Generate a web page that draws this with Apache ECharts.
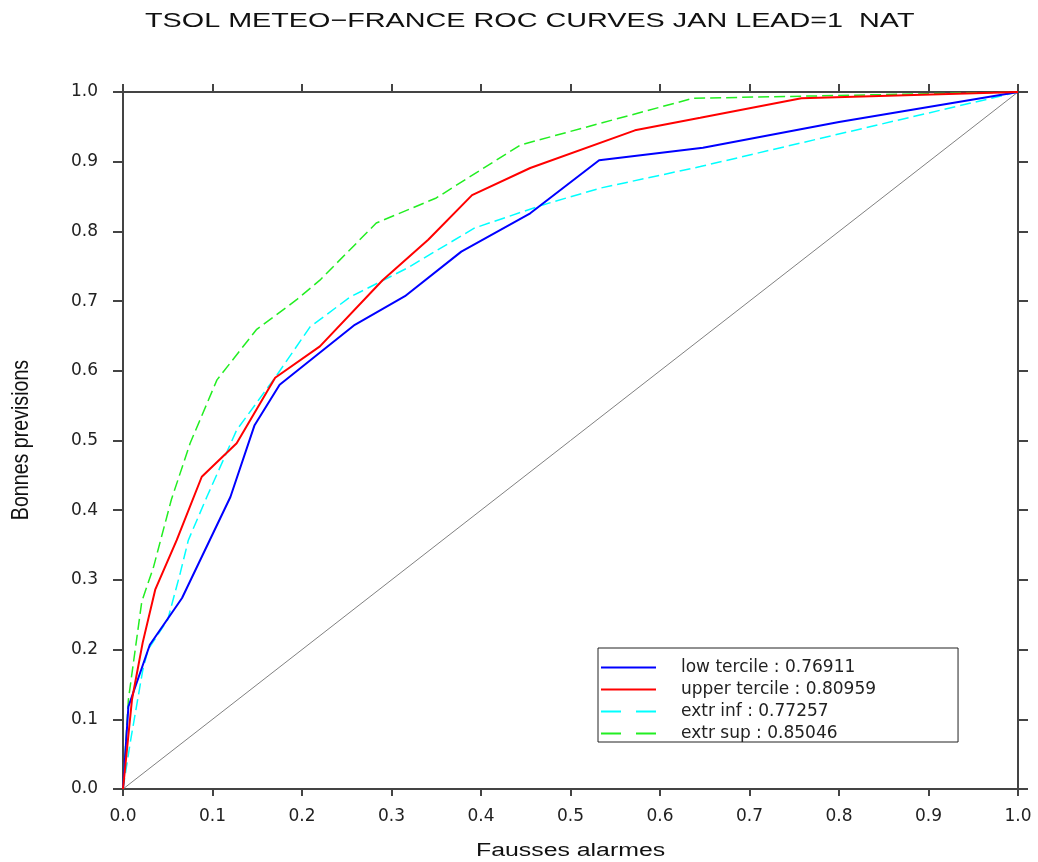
<!DOCTYPE html>
<html>
<head>
<meta charset="utf-8">
<title>TSOL ROC curves</title>
<script src="https://cdn.jsdelivr.net/npm/echarts@6/dist/echarts.min.js"></script>
<style>
html, body { margin: 0; padding: 0; background: #fff; }
#chart { width: 1038px; height: 862px; }
</style>
</head>
<body>
<div id="chart"></div>
<script>
// ROC points (x = fausses alarmes, y = bonnes previsions)
var lowX   = [0, 0.006, 0.030, 0.066, 0.120, 0.147, 0.175, 0.259, 0.315, 0.378, 0.455, 0.532, 0.648, 0.800, 1.0];
var lowY   = [0, 0.118, 0.207, 0.274, 0.419, 0.522, 0.580, 0.666, 0.707, 0.771, 0.826, 0.902, 0.920, 0.957, 1.0];

var upperX = [0, 0.010, 0.022, 0.036, 0.060, 0.088, 0.127, 0.170, 0.220, 0.290, 0.341, 0.390, 0.455, 0.572, 0.645, 0.758, 1.0];
var upperY = [0, 0.128, 0.210, 0.286, 0.357, 0.448, 0.496, 0.590, 0.635, 0.730, 0.788, 0.852, 0.891, 0.945, 0.963, 0.991, 1.0];

var infX   = [0, 0.008, 0.022, 0.028, 0.050, 0.064, 0.073, 0.094, 0.127, 0.172, 0.209, 0.254, 0.317, 0.393, 0.469, 0.533, 0.645, 1.0];
var infY   = [0, 0.066, 0.170, 0.200, 0.243, 0.310, 0.357, 0.420, 0.515, 0.594, 0.663, 0.706, 0.747, 0.805, 0.838, 0.862, 0.893, 1.0];

var supX   = [0, 0.006, 0.021, 0.034, 0.054, 0.075, 0.105, 0.149, 0.194, 0.220, 0.283, 0.350, 0.444, 0.533, 0.637, 1.0];
var supY   = [0, 0.128, 0.269, 0.318, 0.415, 0.496, 0.587, 0.659, 0.702, 0.730, 0.812, 0.848, 0.924, 0.955, 0.991, 1.0];

var diagX  = [0, 1];
var diagY  = [0, 1];

var names = ['low tercile : 0.76911', 'upper tercile : 0.80959', 'extr inf : 0.77257', 'extr sup : 0.85046'];
var tickLabels = ['0.0', '0.1', '0.2', '0.3', '0.4', '0.5', '0.6', '0.7', '0.8', '0.9', '1.0'];

function pairs(xs, ys) {
  return xs.map(function (x, i) { return [x, ys[i]]; });
}

var axisColor = '#444';
var labelFont = 'DejaVu Sans';

function makeAxis(pos, showLabel, tickLen, margin) {
  return {
    type: 'value',
    position: pos,
    min: 0,
    max: 1,
    interval: 0.1,
    axisLine: { show: true, onZero: false, lineStyle: { color: axisColor, width: 2 } },
    axisTick: { show: true, inside: false, length: tickLen, lineStyle: { color: axisColor, width: 2 } },
    axisLabel: {
      show: showLabel,
      margin: margin,
      color: '#222',
      fontFamily: labelFont,
      fontSize: 17,
      formatter: function (v) { return tickLabels[Math.round(v * 10)]; }
    },
    splitLine: { show: false }
  };
}

var chart = echarts.init(document.getElementById('chart'));

var noDot = { opacity: 0 };

var option = {
  backgroundColor: '#fff',
  animation: false,
  grid: { left: 123, right: 20, top: 92, bottom: 73, containLabel: false },
  xAxis: [makeAxis('bottom', true, 7, 19), makeAxis('top', false, 8, 8)],
  yAxis: [makeAxis('left', true, 10, 25), makeAxis('right', false, 10, 8)],
  legend: {
    orient: 'vertical',
    left: 598,
    top: 648,
    padding: [11, 82, 0, 2],
    itemWidth: 55,
    itemHeight: 14,
    itemGap: 5,
    backgroundColor: '#fff',
    borderColor: '#222',
    borderWidth: 1,
    borderRadius: 0,
    textStyle: { color: '#222', fontFamily: labelFont, fontSize: 17, padding: [0, 0, 0, 20] },
    data: [
      { name: names[0], itemStyle: noDot, lineStyle: { type: 'solid', width: 2 } },
      { name: names[1], itemStyle: noDot, lineStyle: { type: 'solid', width: 2 } },
      { name: names[2], itemStyle: noDot, lineStyle: { type: [20, 15], width: 2 } },
      { name: names[3], itemStyle: noDot, lineStyle: { type: [20, 15], width: 2 } }
    ]
  },
  series: [
    {
      name: 'diagonal', type: 'line', data: pairs(diagX, diagY), symbol: 'none',
      lineStyle: { color: '#808080', width: 1 }, silent: true, z: 1
    },
    {
      name: names[2], type: 'line', data: pairs(infX, infY), symbol: 'none',
      itemStyle: { color: '#00ffff' }, lineStyle: { color: '#00ffff', width: 1.5, type: [11, 5] }
    },
    {
      name: names[3], type: 'line', data: pairs(supX, supY), symbol: 'none',
      itemStyle: { color: '#22ee22' }, lineStyle: { color: '#22ee22', width: 1.5, type: [11, 5] }
    },
    {
      name: names[0], type: 'line', data: pairs(lowX, lowY), symbol: 'none',
      itemStyle: { color: '#0000ff' }, lineStyle: { color: '#0000ff', width: 2 }
    },
    {
      name: names[1], type: 'line', data: pairs(upperX, upperY), symbol: 'none',
      itemStyle: { color: '#ff0000' }, lineStyle: { color: '#ff0000', width: 2 }
    }
  ],
  graphic: [
    {
      type: 'text', x: 145, y: 11, scaleX: 1.37,
      style: { text: 'TSOL METEO\u2212FRANCE ROC CURVES JAN LEAD=1  NAT', font: '21px "Liberation Sans"', fill: '#111', verticalAlign: 'top' }
    },
    {
      type: 'text', x: 476, y: 842, scaleX: 1.38,
      style: { text: 'Fausses alarmes', font: '18px "Liberation Sans"', fill: '#111', verticalAlign: 'top' }
    },
    {
      type: 'text', x: 22, y: 440, rotation: Math.PI / 2, scaleX: 1.09, scaleY: 1.3,
      style: { text: 'Bonnes previsions', font: '18px "Liberation Sans"', fill: '#111', align: 'center', verticalAlign: 'middle' }
    }
  ]
};

chart.setOption(option);
</script>
</body>
</html>
